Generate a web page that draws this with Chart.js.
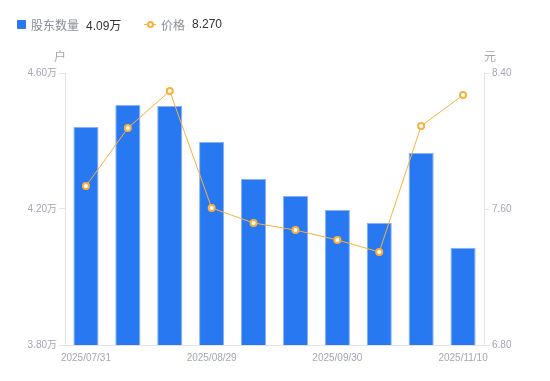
<!DOCTYPE html>
<html>
<head>
<meta charset="utf-8">
<script src="https://cdn.jsdelivr.net/npm/chart.js@4/dist/chart.umd.min.js"></script>
<style>
  html, body { margin: 0; padding: 0; background: #fff; }
  #wrap { position: relative; width: 550px; height: 381px; }
  canvas { position: absolute; left: 0; top: 0; }
  .legend { position: absolute; top: 16px; left: 17px; font-family: "Liberation Sans", "Noto Sans CJK SC", sans-serif; font-size: 12px; white-space: nowrap; }
  .item { position: absolute; top: 0; display: flex; align-items: center; height: 16px; }
  .sq { width: 9px; height: 9px; background: #2a78f0; border-radius: 1px; margin-right: 5px; }
  .ln { position: relative; width: 12px; height: 9px; margin-right: 5px; }
  .ln:before { content: ""; position: absolute; left: 0; right: 0; top: 4px; height: 1px; background: #f9b03c; }
  .ln:after { content: ""; position: absolute; left: 3px; top: 1px; width: 3px; height: 3px; border: 2px solid #f9b03c; border-radius: 50%; background: #fff; }
  .nm { color: #8a8d99; margin-right: 7px; }
  .vl { color: #333; }
</style>
</head>
<body>
<div id="wrap">
  <canvas id="c" width="550" height="381"></canvas>
  <div class="legend">
    <div class="item" style="left:0"><span class="sq"></span><span class="nm">股东数量</span><span class="vl">4.09万</span></div>
    <div class="item" style="left:127px"><span class="ln"></span><span class="nm">价格</span><span class="vl">8.270</span></div>
  </div>
</div>
<script>
const categories = ["2025/07/31", "2025/08/10", "2025/08/20", "2025/08/29", "2025/09/10", "2025/09/19", "2025/09/30", "2025/10/20", "2025/10/31", "2025/11/10"];
const holders = [4.441, 4.506, 4.503, 4.397, 4.288, 4.238, 4.197, 4.159, 4.365, 4.086];
const prices = [7.735, 8.076, 8.294, 7.606, 7.518, 7.476, 7.418, 7.347, 8.088, 8.270];
const shownLabels = [0, 3, 6, 9];
const leftUnit = "户";
const rightUnit = "元";

const FONT = '"Liberation Sans", "Noto Sans CJK SC", sans-serif';
const TICK = '#a3a6b4';
const AXIS = '#e3e4e8';
const ORANGE = '#f9b03c';

const unitPlugin = {
  id: 'units',
  afterDraw(chart) {
    const ctx = chart.ctx;
    const a = chart.chartArea;
    ctx.save();
    ctx.font = '12px ' + FONT;
    ctx.fillStyle = TICK;
    ctx.textBaseline = 'middle';
    ctx.textAlign = 'center';
    ctx.fillText(leftUnit, a.left - 5, a.top - 15);
    ctx.fillText(rightUnit, a.right + 6, a.top - 15);
    ctx.restore();
  }
};

new Chart(document.getElementById('c'), {
  data: {
    labels: categories,
    datasets: [
      {
        type: 'line',
        label: '价格',
        data: prices,
        yAxisID: 'y1',
        borderColor: ORANGE,
        borderWidth: 1,
        pointRadius: 3,
        pointBorderWidth: 2,
        pointBackgroundColor: '#fff',
        pointBorderColor: ORANGE,
        tension: 0,
        order: 0
      },
      {
        type: 'bar',
        label: '股东数量',
        data: holders,
        yAxisID: 'y',
        backgroundColor: '#2878f2',
        borderColor: '#86b3f7',
        borderWidth: { top: 1, left: 1, right: 1, bottom: 0 },
        barPercentage: 0.6,
        categoryPercentage: 1,
        order: 1
      }
    ]
  },
  options: {
    responsive: false,
    animation: false,
    layout: { padding: { top: 73, left: 0, right: 0, bottom: 0 } },
    plugins: { legend: { display: false }, tooltip: { enabled: false } },
    scales: {
      x: {
        afterFit(s) { s.height = 36; },
        grid: { display: false, drawTicks: false },
        border: { display: true, color: AXIS },
        ticks: {
          autoSkip: false, maxRotation: 0, padding: 7,
          color: TICK, font: { family: FONT, size: 10 },
          callback(v, i) { return shownLabels.includes(i) ? categories[i] : ''; }
        }
      },
      y: {
        position: 'left',
        min: 3.8, max: 4.6,
        afterFit(s) { s.width = 65; },
        afterBuildTicks(s) { s.ticks = [3.8, 4.2, 4.6].map(v => ({ value: v })); },
        grid: { drawOnChartArea: false, tickLength: 6, color: AXIS },
        border: { display: true, color: AXIS },
        ticks: { color: TICK, font: { family: FONT, size: 10 }, padding: 2, callback: v => v.toFixed(2) + '万' }
      },
      y1: {
        position: 'right',
        min: 6.8, max: 8.4,
        afterFit(s) { s.width = 66; },
        afterBuildTicks(s) { s.ticks = [6.8, 7.6, 8.4].map(v => ({ value: v })); },
        grid: { drawOnChartArea: false, tickLength: 6, color: AXIS },
        border: { display: true, color: AXIS },
        ticks: { color: TICK, font: { family: FONT, size: 10 }, padding: 2, callback: v => v.toFixed(2) }
      }
    }
  },
  plugins: [unitPlugin]
});
</script>
</body>
</html>
